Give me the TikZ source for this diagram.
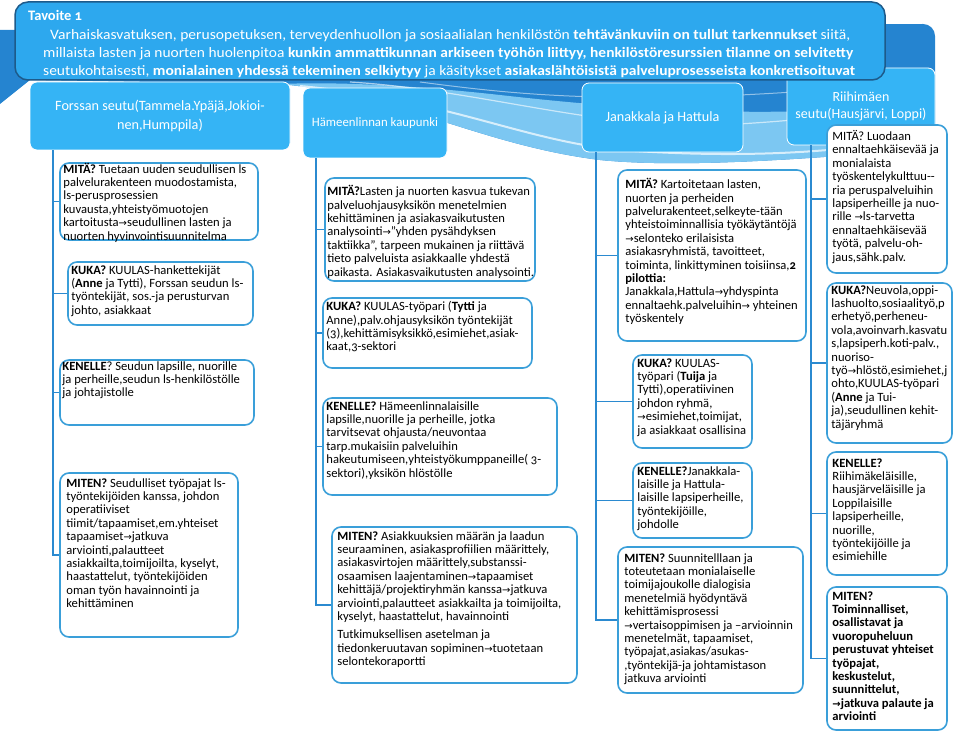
\documentclass[tikz,border=0pt]{standalone}
\usepackage{graphicx}
\usepackage{fontspec}
\setmainfont{Carlito}[Numbers=OldStyle]
\newfontfamily\symfont{DejaVu Sans}
\newcommand{\myarr}{{\symfont\fontsize{10}{10}\selectfont →}}
\definecolor{bandblue}{HTML}{2584D0}
\definecolor{bandlight}{HTML}{7CC7F2}
\definecolor{headblue}{HTML}{2DA8EE}
\definecolor{headedge}{HTML}{1D5A8A}
\definecolor{colblue}{HTML}{35B4F5}
\definecolor{boxblue}{HTML}{3A9FD9}
\definecolor{lineblue}{HTML}{2B8AD0}
\tikzset{
  cbox/.style={draw=boxblue, line width=1.6pt, fill=white, rounded corners=9pt, inner sep=0pt},
  ctext/.style={anchor=north west, inner sep=0pt, align=left, font=\fontsize{12.6}{13.4}\selectfont},
  hbox/.style={fill=colblue, draw=white, line width=0.8pt, rounded corners=7pt, text=white, align=center, font=\fontsize{14.2}{19}\selectfont, inner sep=0pt},
  conn/.style={draw=lineblue, line width=1.6pt},
  hline/.style={anchor=base west, text=white, inner sep=0pt, font=\fontsize{14.4}{18.2}\selectfont},
}
\begin{document}
\begin{tikzpicture}[x=1pt,y=-1pt]
\useasboundingbox (0,0) rectangle (959,735);
% background band
\fill[bandblue] (0,30) -- (923,24) to[out=0,in=90] (935,36) -- (935,148)
  .. controls (800,160) and (680,168) .. (600,160)
  .. controls (480,145) and (400,95) .. (280,84) -- (30,80) -- (0,104) -- cycle;
\fill[bandlight] (280,84) .. controls (400,95) and (480,145) .. (600,160)
  .. controls (680,168) and (800,160) .. (935,148) -- (935,100)
  .. controls (800,120) and (650,112) .. (500,95)
  .. controls (400,84) and (330,82) .. (280,84) -- cycle;
\draw[white, line width=2pt, opacity=0.7] (300,86) .. controls (450,100) and (520,140) .. (620,150) .. controls (760,160) and (860,150) .. (935,135);
\draw[white, line width=1.2pt, opacity=0.6] (350,82) .. controls (480,90) and (600,130) .. (720,125) .. controls (820,120) and (880,110) .. (935,100);
\draw[white, line width=1pt, opacity=0.5] (420,82) .. controls (520,95) and (640,110) .. (935,80);

% column headers
\node[hbox, minimum width=260pt, minimum height=68pt] (h1) at (160,116) {Forssan seutu(Tammela.Ypäjä,Jokioi-\\nen,Humppila)};
\node[hbox, minimum width=144pt, minimum height=70pt, font=\fontsize{12.8}{19}\selectfont] (h2) at (375,123) {Hämeenlinnan kaupunki};
\node[hbox, minimum width=161pt, minimum height=69pt] (h3) at (662.5,117.5) {Janakkala ja Hattula};
\node[hbox, minimum width=148pt, minimum height=77pt, font=\fontsize{14}{17}\selectfont] (h4) at (861,106.5) {Riihimäen\\seutu(Hausjärvi, Loppi)};

% main header
\node[fill=headblue, draw=headedge, line width=1.5pt, rounded corners=13pt, minimum width=870pt, minimum height=78pt, inner sep=0pt] (hdr) at (450,41) {};
\node[anchor=west, text=white, inner sep=0pt, font=\fontsize{14.5}{16}\selectfont\bfseries] (tav) at (28,15) {Tavoite 1};
\node[hline] (hl1) at (50,39.5) {\resizebox{800pt}{\height}{Varhaiskasvatuksen, perusopetuksen, terveydenhuollon ja  sosiaalialan henkilöstön \textbf{tehtävänkuviin on tullut tarkennukset} siitä,}};
\node[hline] (hl2) at (43,57.7) {\resizebox{810pt}{\height}{millaista lasten ja nuorten huolenpitoa \textbf{kunkin ammattikunnan arkiseen työhön liittyy, henkilöstöresurssien tilanne on selvitetty}}};
\node[hline] (hl3) at (43,75.9) {\resizebox{812pt}{\height}{seutukohtaisesti, \textbf{monialainen yhdessä tekeminen selkiytyy} ja käsitykset \textbf{asiakaslähtöisistä palveluprosesseista konkretisoituvat}}};

% column line tops
\coordinate (l1) at (53,150);
\coordinate (l2) at (316,158);
\coordinate (l3) at (596,152);
\coordinate (l4) at (811,145);

% ---------- column 1
\node[cbox, minimum width=198pt, minimum height=77pt] (a1) at (159,201.5) {};
\node[ctext] (a1t) at ([shift={(4pt,-0.5pt)}]a1.north west) {\textbf{MITÄ?} Tuetaan uuden seudullisen ls\\palvelurakenteen muodostamista,\\ls-perusprosessien\\kuvausta,yhteistyömuotojen\\kartoitusta\myarr seudullinen lasten ja\\nuorten hyvinvointisuunnitelma};
\node[cbox, minimum width=185pt, minimum height=63pt] (a2) at (160.5,293.5) {};
\node[ctext] (a2t) at ([shift={(4pt,-4pt)}]a2.north west) {\textbf{KUKA?} KUULAS-hankettekijät\\(\textbf{Anne} ja Tytti), Forssan seudun ls-\\työntekijät, sos.-ja perusturvan\\johto, asiakkaat};
\node[cbox, minimum width=194pt, minimum height=65pt] (a3) at (157,392.5) {};
\node[ctext] (a3t) at ([shift={(3pt,-2pt)}]a3.north west) {\textbf{KENELLE}? Seudun lapsille, nuorille\\ja perheille,seudun ls-henkilöstölle\\ja johtajistolle};
\node[cbox, minimum width=178pt, minimum height=164pt] (a4) at (149,555) {};
\node[ctext] (a4t) at ([shift={(7pt,-6pt)}]a4.north west) {\textbf{MITEN?} Seudulliset  työpajat ls-\\työntekijöiden kanssa, johdon\\operatiiviset\\tiimit/tapaamiset,em.yhteiset\\tapaamiset\myarr jatkuva\\arviointi,palautteet\\asiakkailta,toimijoilta, kyselyt,\\haastattelut, työntekijöiden\\oman työn havainnointi ja\\kehittäminen};
\draw[conn] (h1.south -| l1) |- (a4.west);
\foreach \b in {a1,a2,a3} \draw[conn] (\b.west -| l1) -- (\b.west);

% ---------- column 2
\node[cbox, minimum width=210pt, minimum height=103pt] (b1) at (430,229.5) {};
\node[ctext] (b1t) at ([shift={(3pt,-8pt)}]b1.north west) {\textbf{MITÄ?}Lasten ja nuorten kasvua tukevan\\palveluohjausyksikön menetelmien\\kehittäminen ja asiakasvaikutusten\\analysointi\myarr ”yhden pysähdyksen\\taktiikka”, tarpeen mukainen  ja riittävä\\tieto palveluista asiakkaalle yhdestä\\paikasta. Asiakasvaikutusten analysointi.};
\node[cbox, minimum width=209pt, minimum height=70pt] (b2) at (427.5,333) {};
\node[ctext] (b2t) at ([shift={(4pt,-4pt)}]b2.north west) {\textbf{KUKA?} KUULAS-työpari (\textbf{Tytti} ja\\Anne),palv.ohjausyksikön työntekijät\\(3),kehittämisyksikkö,esimiehet,asiak-\\kaat,3-sektori};
\node[cbox, minimum width=234pt, minimum height=97pt] (b3) at (440,446.5) {};
\node[ctext] (b3t) at ([shift={(4pt,-4pt)}]b3.north west) {\textbf{KENELLE?} Hämeenlinnalaisille\\lapsille,nuorille ja perheille,  jotka\\tarvitsevat ohjausta/neuvontaa\\tarp.mukaisiin palveluihin\\hakeutumiseen,yhteistyökumppaneille( 3-\\sektori),yksikön hlöstölle};
\node[cbox, minimum width=245pt, minimum height=156pt] (b4) at (454.5,605) {};
\node[ctext] (b4t) at ([shift={(6pt,-5pt)}]b4.north west) {\textbf{MITEN?} Asiakkuuksien määrän ja laadun\\seuraaminen, asiakasprofiilien määrittely,\\asiakasvirtojen määrittely,substanssi-\\osaamisen laajentaminen\myarr tapaamiset\\kehittäjä/projektiryhmän kanssa\myarr jatkuva\\arviointi,palautteet asiakkailta ja toimijoilta,\\kyselyt, haastattelut, havainnointi\\[5pt]Tutkimuksellisen asetelman ja\\tiedonkeruutavan sopiminen\myarr tuotetaan\\selontekoraportti};
\draw[conn] (h2.south -| l2) |- (b4.west);
\foreach \b in {b1,b2,b3} \draw[conn] (\b.west -| l2) -- (\b.west);

% ---------- column 3
\node[cbox, minimum width=188pt, minimum height=171pt] (c1) at (712,255.5) {};
\node[ctext] (c1t) at ([shift={(8pt,-9pt)}]c1.north west) {\textbf{MITÄ?} Kartoitetaan  lasten,\\nuorten ja perheiden\\palvelurakenteet,selkeyte-tään\\yhteistoiminnallisia työkäytäntöjä\\\myarr selonteko erilaisista\\asiakasryhmistä, tavoitteet,\\toiminta, linkittyminen toisiinsa,\textbf{2}\\\textbf{pilottia:}\\Janakkala,Hattula\myarr yhdyspinta\\ennaltaehk.palveluihin\myarr{} yhteinen\\työskentely};
\node[cbox, minimum width=119pt, minimum height=93pt] (c2) at (692.5,401.5) {};
\node[ctext] (c2t) at ([shift={(5pt,-4pt)}]c2.north west) {\textbf{KUKA?} KUULAS-\\työpari (\textbf{Tuija} ja\\Tytti),operatiivinen\\johdon ryhmä,\\\myarr esimiehet,toimijat,\\ja asiakkaat osallisina};
\node[cbox, minimum width=119pt, minimum height=75pt] (c3) at (692.5,500.5) {};
\node[ctext] (c3t) at ([shift={(5pt,-4pt)}]c3.north west) {\textbf{KENELLE?}Janakkala-\\laisille ja Hattula-\\laisille lapsiperheille,\\työntekijöille,\\johdolle};
\node[cbox, minimum width=185pt, minimum height=146pt] (c4) at (710.5,620) {};
\node[ctext] (c4t) at ([shift={(7pt,-7pt)}]c4.north west) {\textbf{MITEN?} Suunnitelllaan ja\\toteutetaan monialaiselle\\toimijajoukolle dialogisia\\menetelmiä hyödyntävä\\kehittämisprosessi\\\myarr vertaisoppimisen ja –arvioinnin\\menetelmät, tapaamiset,\\työpajat,asiakas/asukas-\\,työntekijä-ja johtamistason\\jatkuva arviointi};
\draw[conn] (h3.south -| l3) |- (c4.west);
\foreach \b in {c1,c2,c3} \draw[conn] (\b.west -| l3) -- (\b.west);

% ---------- column 4
\node[cbox, minimum width=120pt, minimum height=148pt] (d1) at (887,199) {};
\node[ctext] (d1t) at ([shift={(6pt,-6pt)}]d1.north west) {MITÄ? Luodaan\\ennaltaehkäisevää ja\\monialaista\\työskentelykulttuu-{}-\\ria peruspalveluihin\\lapsiperheille ja nuo-\\rille \myarr ls-tarvetta\\ennaltaehkäisevää\\työtä, palvelu-oh-\\jaus,sähk.palv.};
\node[cbox, minimum width=125pt, minimum height=160pt] (d2) at (889.5,363) {};
\node[ctext] (d2t) at ([shift={(5pt,-3pt)}]d2.north west) {\textbf{KUKA?}Neuvola,oppi-\\lashuolto,sosiaalityö,p\\erhetyö,perheneu-\\vola,avoinvarh.kasvatu\\s,lapsiperh.koti-palv.,\\nuoriso-\\työ\myarr hlöstö,esimiehet,j\\ohto,KUULAS-työpari\\(\textbf{Anne} ja Tui-\\ja),seudullinen kehit-\\täjäryhmä};
\node[cbox, minimum width=120pt, minimum height=123pt] (d3) at (887,513.5) {};
\node[ctext] (d3t) at ([shift={(6pt,-7pt)}]d3.north west) {\textbf{KENELLE?}\\Riihimäkeläisille,\\hausjärveläisille  ja\\Loppilaisille\\lapsiperheille,\\nuorille,\\työntekijöille ja\\esimiehille};
\node[cbox, minimum width=120pt, minimum height=143pt] (d4) at (887,658.5) {};
\node[ctext, font=\fontsize{12.6}{13.4}\selectfont\bfseries] (d4t) at ([shift={(6pt,-5pt)}]d4.north west) {MITEN?\\Toiminnalliset,\\osallistavat ja\\vuoropuheluun\\perustuvat yhteiset\\työpajat,\\keskustelut,\\suunnittelut,\\\myarr jatkuva palaute ja\\arviointi};
\draw[conn] (h4.south -| l4) |- (d4.west);
\foreach \b in {d1,d2,d3} \draw[conn] (\b.west -| l4) -- (\b.west);
\end{tikzpicture}
\end{document}
